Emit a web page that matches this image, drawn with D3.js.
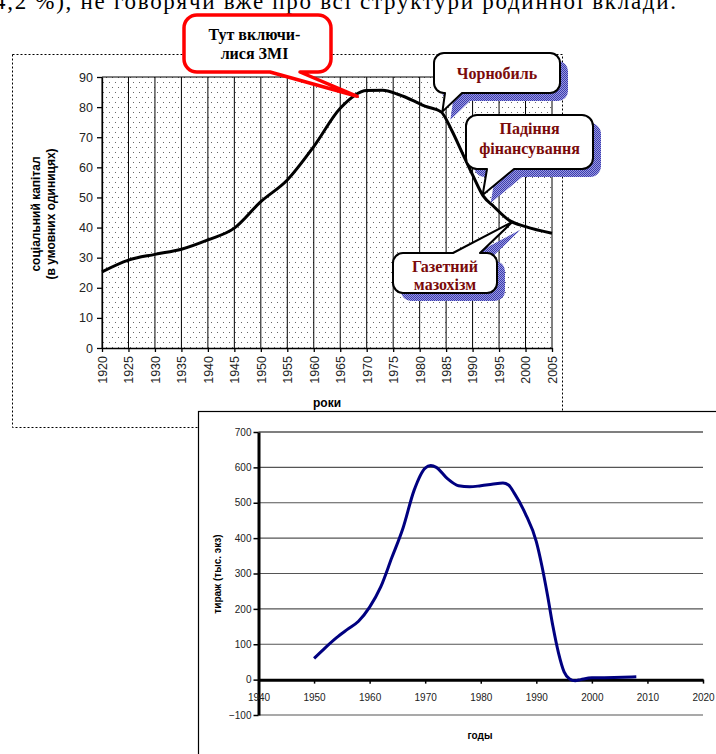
<!DOCTYPE html>
<html lang="uk">
<head>
<meta charset="UTF-8">
<title>Соціальний капітал і тираж</title>
<script src="https://d3js.org/d3.v7.min.js"></script>
<style>
  body { margin: 0; background: #fff; }
  svg { display: block; }
  .tick text { font-family: Arial, "Liberation Sans", sans-serif; fill: #222; }
</style>
</head>
<body>
<svg id="chart" width="716" height="754"></svg>
<script>
// верхній графік: соціальний капітал
const capYears  = [1920, 1925, 1930, 1935, 1940, 1945, 1950, 1955, 1960, 1965, 1970, 1973, 1976, 1979, 1981, 1984, 1986, 1988, 1990, 1992, 1994, 1997, 2000, 2005];
const capValues = [25.3, 29.2, 31.1, 32.8, 35.9, 39.8, 48.6, 55.8, 66.9, 79.6, 85.5, 85.6, 84.2, 82.0, 80.3, 78.5, 72.5, 65.0, 57.5, 50.5, 47.0, 42.3, 40.3, 38.1];
const capTicksX = [1920, 1925, 1930, 1935, 1940, 1945, 1950, 1955, 1960, 1965, 1970, 1975, 1980, 1985, 1990, 1995, 2000, 2005];
const capTicksY = [0, 10, 20, 30, 40, 50, 60, 70, 80, 90];

// нижній графік: тираж
const tirYears  = [1950, 1952, 1954, 1956, 1958, 1960, 1962, 1964, 1966, 1968, 1970, 1971, 1972, 1974, 1976, 1978, 1980, 1982, 1984, 1985, 1986, 1988, 1990, 1991, 1992, 1993, 1994, 1995, 1996, 1997, 1998, 2000, 2004, 2008];
const tirValues = [60, 90, 118, 142, 165, 205, 262, 345, 428, 535, 598, 605, 600, 568, 548, 545, 548, 552, 556, 550, 528, 470, 390, 322, 240, 150, 75, 22, 2, -3, 0, 5, 6, 8];
const tirTicksX = [1940, 1950, 1960, 1970, 1980, 1990, 2000, 2010, 2020];
const tirTicksY = [-100, 0, 100, 200, 300, 400, 500, 600, 700];

// виноски
const noteLines = [["Тут включи-", "лися ЗМІ"], ["Чорнобиль"], ["Падіння", "фінансування"], ["Газетний", "мазохізм"]];
const noteYears = [1968.2, 1984.3, 1991.9, 1997.6];
const noteValues = [83.6, 78.5, 50.8, 42.0];

const svg = d3.select("#chart");
svg.append("rect").attr("width", 716).attr("height", 754).attr("fill", "#fff");

const defs = svg.append("defs");
const dots = defs.append("pattern").attr("id", "dots")
  .attr("patternUnits", "userSpaceOnUse").attr("width", 6).attr("height", 10);
dots.append("rect").attr("width", 6).attr("height", 10).attr("fill", "#fff");
dots.append("rect").attr("x", 1).attr("y", 2).attr("width", 1).attr("height", 1).attr("fill", "#666");
dots.append("rect").attr("x", 4).attr("y", 7).attr("width", 1).attr("height", 1).attr("fill", "#666");

const hatch = defs.append("pattern").attr("id", "hatch")
  .attr("patternUnits", "userSpaceOnUse").attr("width", 2).attr("height", 2);
hatch.append("rect").attr("width", 2).attr("height", 2).attr("fill", "#9a9ae0");
hatch.append("rect").attr("width", 1).attr("height", 1).attr("fill", "#3c3cae");
hatch.append("rect").attr("x", 1).attr("y", 1).attr("width", 1).attr("height", 1).attr("fill", "#3c3cae");

// рядок тексту зверху (обрізаний краєм сторінки)
svg.append("text")
  .attr("x", -6).attr("y", 8.5)
  .attr("textLength", 682).attr("lengthAdjust", "spacing")
  .style("font-family", "'Liberation Serif', 'Times New Roman', serif")
  .style("font-size", "23px")
  .text("4,2 %), не говорячи вже про всі структури родинної вклади.");

// рамка верхнього графіка
svg.append("rect")
  .attr("x", 12.5).attr("y", 54.5).attr("width", 550).attr("height", 373)
  .attr("fill", "none").attr("stroke", "#000").attr("stroke-dasharray", "2,2");

const x1 = d3.scaleLinear().domain([1920, 2005]).range([102, 552]);
const y1 = d3.scaleLinear().domain([0, 90]).range([348, 77]);

const topG = svg.append("g");
topG.append("rect")
  .attr("x", x1(1920)).attr("y", y1(90))
  .attr("width", x1(2005) - x1(1920)).attr("height", y1(0) - y1(90))
  .attr("fill", "url(#dots)");

topG.selectAll(".vgrid").data(capTicksX).join("line")
  .attr("class", "vgrid")
  .attr("x1", d => x1(d)).attr("x2", d => x1(d))
  .attr("y1", y1(0)).attr("y2", y1(90))
  .attr("stroke", "#000").attr("stroke-width", 1);
topG.append("line")
  .attr("x1", x1(1920)).attr("x2", x1(2005))
  .attr("y1", y1(90)).attr("y2", y1(90))
  .attr("stroke", "#000");

const yAxis1 = topG.append("g")
  .attr("transform", `translate(${x1(1920)},0)`)
  .call(d3.axisLeft(y1).tickValues(capTicksY).tickSize(5).tickSizeOuter(0).tickPadding(4));
yAxis1.selectAll("text").style("font-size", "12.5px");
yAxis1.selectAll("line, path").attr("stroke", "#000").attr("stroke-width", 1.3);

const xAxis1 = topG.append("g")
  .attr("transform", `translate(0,${y1(0)})`)
  .call(d3.axisBottom(x1).tickValues(capTicksX).tickFormat(d3.format("d")).tickSize(4).tickSizeOuter(0));
xAxis1.selectAll("line, path").attr("stroke", "#000").attr("stroke-width", 1.3);
xAxis1.selectAll("text")
  .style("font-size", "12.5px")
  .style("text-anchor", "end")
  .attr("transform", "rotate(-90)")
  .attr("x", -8).attr("y", 0).attr("dy", "0.35em");

const capData = capYears.map((d, i) => ({ year: d, value: capValues[i] }));
topG.append("path")
  .datum(capData)
  .attr("fill", "none").attr("stroke", "#000").attr("stroke-width", 3)
  .attr("d", d3.line().x(d => x1(d.year)).y(d => y1(d.value)).curve(d3.curveMonotoneX));

const yLab1 = topG.append("text")
  .attr("transform", "translate(44,214) rotate(-90)")
  .attr("text-anchor", "middle")
  .style("font-family", "Arial, 'Liberation Sans', sans-serif")
  .style("font-size", "12px").style("font-weight", "bold");
yLab1.append("tspan").attr("x", 0).attr("dy", "-0.35em").text("соціальний капітал");
yLab1.append("tspan").attr("x", 0).attr("dy", "1.25em").text("(в умовних одиницях)");

topG.append("text")
  .attr("x", 327).attr("y", 407)
  .attr("text-anchor", "middle")
  .style("font-family", "Arial, 'Liberation Sans', sans-serif")
  .style("font-size", "12px").style("font-weight", "bold")
  .text("роки");

// виноски
function calloutPath(b, tip) {
  const { x, y, w, h, r } = b;
  if (b.side === "top") {
    return `M${x + r},${y} H${b.t1} L${tip[0]},${tip[1]} L${b.t2},${y} H${x + w - r}` +
      ` A${r},${r} 0 0 1 ${x + w},${y + r} V${y + h - r} A${r},${r} 0 0 1 ${x + w - r},${y + h}` +
      ` H${x + r} A${r},${r} 0 0 1 ${x},${y + h - r} V${y + r} A${r},${r} 0 0 1 ${x + r},${y} Z`;
  }
  return `M${x + r},${y} H${x + w - r} A${r},${r} 0 0 1 ${x + w},${y + r} V${y + h - r}` +
    ` A${r},${r} 0 0 1 ${x + w - r},${y + h} H${b.t2} L${tip[0]},${tip[1]} L${b.t1},${y + h}` +
    ` H${x + r} A${r},${r} 0 0 1 ${x},${y + h - r} V${y + r} A${r},${r} 0 0 1 ${x + r},${y} Z`;
}

const boxes = [
  { x: 184, y: 15, w: 147, h: 57, r: 13, side: "bottom", t1: 270, t2: 300, red: true, lh: 19, ty: 34 },
  { x: 434, y: 53, w: 126, h: 40, r: 10, side: "bottom", t1: 445, t2: 462, lh: 0, ty: 73 },
  { x: 466, y: 115, w: 127, h: 54, r: 11, side: "bottom", t1: 487, t2: 514, lh: 20, ty: 128 },
  { x: 393, y: 253, w: 104, h: 40, r: 10, side: "top", t1: 453, t2: 480, lh: 18, ty: 266 }
];

boxes.forEach((b, i) => {
  const tip = [x1(noteYears[i]), y1(noteValues[i])];
  const g = svg.append("g");
  if (!b.red) {
    g.append("path")
      .attr("transform", "translate(8,8)")
      .attr("d", calloutPath(b, tip))
      .attr("fill", "url(#hatch)");
  }
  g.append("path")
    .attr("d", calloutPath(b, tip))
    .attr("fill", "#fff")
    .attr("stroke", b.red ? "#f00" : "#000")
    .attr("stroke-width", b.red ? 3.5 : 2)
    .attr("stroke-linejoin", "round");
  const cx = b.x + b.w / 2 - (b.red ? 3 : 0);
  noteLines[i].forEach((t, j) => {
    g.append("text")
      .attr("x", cx).attr("y", b.ty + j * b.lh)
      .attr("dy", "0.35em")
      .attr("text-anchor", "middle")
      .style("font-family", "'Liberation Serif', 'Times New Roman', serif")
      .style("font-weight", "bold")
      .style("font-size", "16px")
      .attr("fill", b.red ? "#000" : "#7a0a0a")
      .text(t);
  });
});

// нижній графік
svg.append("rect")
  .attr("x", 198.5).attr("y", 411.5).attr("width", 540).attr("height", 360)
  .attr("fill", "#fff").attr("stroke", "#000").attr("stroke-width", 1.2);

const x2 = d3.scaleLinear().domain([1940, 2020]).range([258.5, 703]);
const y2 = d3.scaleLinear().domain([-100, 700]).range([715, 432]);

const botG = svg.append("g");
botG.selectAll(".hgrid").data(tirTicksY.filter(d => d !== 0)).join("line")
  .attr("class", "hgrid")
  .attr("x1", x2(1940)).attr("x2", x2(2020))
  .attr("y1", d => y2(d)).attr("y2", d => y2(d))
  .attr("stroke", d => d === 700 ? "#000" : "#555").attr("stroke-width", 1.2);

const yAxis2 = botG.append("g")
  .attr("transform", `translate(${x2(1940)},0)`)
  .call(d3.axisLeft(y2).tickValues(tirTicksY).tickSize(5).tickSizeOuter(0).tickPadding(2));
yAxis2.select(".domain").attr("stroke", "#000").attr("stroke-width", 3);
yAxis2.selectAll(".tick line").attr("stroke", "#000").attr("stroke-width", 1.5);
yAxis2.selectAll("text").style("font-size", "10px");

const xAxis2 = botG.append("g")
  .attr("transform", `translate(0,${y2(0)})`)
  .call(d3.axisBottom(x2).tickValues(tirTicksX).tickFormat(d3.format("d")).tickSize(4).tickSizeOuter(0).tickPadding(10));
xAxis2.select(".domain").attr("stroke", "#000").attr("stroke-width", 3);
xAxis2.selectAll(".tick line").attr("stroke", "#000").attr("stroke-width", 1.5);
xAxis2.selectAll("text").style("font-size", "10px");

const tirData = tirYears.map((d, i) => ({ year: d, value: tirValues[i] }));
botG.append("path")
  .datum(tirData)
  .attr("fill", "none").attr("stroke", "#000080").attr("stroke-width", 3)
  .attr("stroke-linejoin", "round")
  .attr("d", d3.line().x(d => x2(d.year)).y(d => y2(d.value)).curve(d3.curveMonotoneX));

botG.append("text")
  .attr("transform", "translate(221,574) rotate(-90)")
  .attr("text-anchor", "middle")
  .style("font-family", "Arial, 'Liberation Sans', sans-serif")
  .style("font-size", "10px").style("font-weight", "bold")
  .text("тираж (тыс. экз)");

botG.append("text")
  .attr("x", 480).attr("y", 739)
  .attr("text-anchor", "middle")
  .style("font-family", "Arial, 'Liberation Sans', sans-serif")
  .style("font-size", "10px").style("font-weight", "bold")
  .text("годы");
</script>
</body>
</html>
